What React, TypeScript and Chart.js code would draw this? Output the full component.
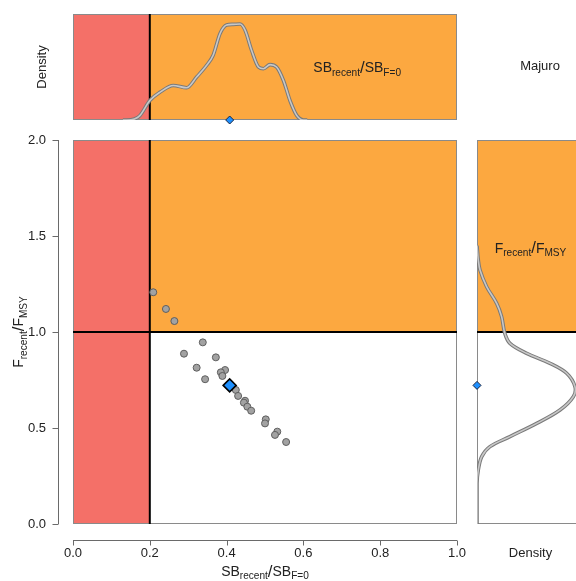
import { useEffect, useRef } from 'react';
import { Chart, registerables } from 'chart.js';

Chart.register(...registerables);

const FONT = '"Liberation Sans", Arial, Helvetica, sans-serif';
const RED = '#F47068';
const ORANGE = '#FCA840';
const BOX = '#8a8a8a';
const AXIS = '#6a6a6a';
const TEXT = '#222222';

// reference points
const SB_LIMIT = 0.2;
const F_LIMIT = 1.0;
const SB_MEDIAN = 0.408;
const F_MEDIAN = 0.722;

// axis ticks
const X_TICKS = [0, 0.2, 0.4, 0.6, 0.8, 1.0];
const Y_TICKS = [0, 0.5, 1.0, 1.5, 2.0];

// scatter of model runs
const sbRecent = [0.209, 0.242, 0.264, 0.338, 0.289, 0.372, 0.322, 0.396, 0.385, 0.389, 0.344, 0.424, 0.43, 0.448, 0.445, 0.454, 0.464, 0.502, 0.5, 0.532, 0.526, 0.555];
const fRecent = [1.207, 1.12, 1.057, 0.946, 0.887, 0.868, 0.814, 0.802, 0.79, 0.771, 0.754, 0.698, 0.667, 0.642, 0.632, 0.611, 0.59, 0.545, 0.524, 0.481, 0.464, 0.427];

// top density (SB_recent / SB_F=0)
const topDensSB = [0.13, 0.14, 0.16, 0.174, 0.2, 0.227, 0.261, 0.296, 0.322, 0.348, 0.365, 0.383, 0.4, 0.417, 0.435, 0.448, 0.465, 0.483, 0.496, 0.513, 0.53, 0.548, 0.565, 0.583, 0.6, 0.61];
const topDensH = [0, 0, 0.01, 0.041, 0.184, 0.263, 0.326, 0.304, 0.405, 0.516, 0.611, 0.816, 0.896, 0.902, 0.905, 0.848, 0.658, 0.5, 0.484, 0.522, 0.5, 0.373, 0.184, 0.041, 0, 0];

// right density (F_recent / F_MSY)
const rightDensF = [1.45, 1.375, 1.323, 1.236, 1.149, 1.08, 0.993, 0.941, 0.889, 0.837, 0.785, 0.715, 0.663, 0.594, 0.524, 0.455, 0.403, 0.351, 0.281, 0.212, 0.0];
const rightDensD = [0, 0.012, 0.028, 0.09, 0.184, 0.23, 0.26, 0.308, 0.464, 0.682, 0.838, 0.916, 0.9, 0.776, 0.558, 0.308, 0.121, 0.044, 0.012, 0, 0];

type Part = { t: string; sub?: boolean; big?: boolean };
const SB_LABEL: Part[] = [{ t: 'SB' }, { t: 'recent', sub: true }, { t: '/', big: true }, { t: 'SB' }, { t: 'F=0', sub: true }];
const F_LABEL: Part[] = [{ t: 'F' }, { t: 'recent', sub: true }, { t: '/', big: true }, { t: 'F' }, { t: 'MSY', sub: true }];

function richText(ctx: CanvasRenderingContext2D, parts: Part[], cx: number, cy: number, size: number, rot = 0, subDrop = 0.26) {
  ctx.save();
  ctx.translate(cx, cy);
  ctx.rotate(rot);
  ctx.fillStyle = TEXT;
  ctx.textBaseline = 'alphabetic';
  ctx.textAlign = 'left';
  const fontFor = (p: Part) => `${p.sub ? size * 0.72 : p.big ? size * 1.2 : size}px ${FONT}`;
  let total = 0;
  const ws = parts.map((p) => {
    ctx.font = fontFor(p);
    const w = ctx.measureText(p.t).width;
    total += w;
    return w;
  });
  let x = -total / 2;
  const base = size * 0.36;
  parts.forEach((p, i) => {
    ctx.font = fontFor(p);
    ctx.fillText(p.t, x, p.sub ? base + size * subDrop : p.big ? base + size * 0.06 : base);
    x += ws[i];
  });
  ctx.restore();
}

const tickFont = { family: FONT, size: 13 };

const mainPlugin = {
  id: 'mainDeco',
  beforeDatasetsDraw(chart: any) {
    const { ctx, chartArea: a, scales } = chart;
    const x = scales.x, y = scales.y;
    const x0 = x.getPixelForValue(0), xL = x.getPixelForValue(SB_LIMIT), x1 = x.getPixelForValue(1);
    const y0 = y.getPixelForValue(0), yL = y.getPixelForValue(F_LIMIT), y2 = y.getPixelForValue(2);
    ctx.save();
    ctx.fillStyle = RED;
    ctx.fillRect(x0, y2, xL - x0, y0 - y2);
    ctx.fillStyle = ORANGE;
    ctx.fillRect(xL, y2, x1 - xL, yL - y2);
    ctx.strokeStyle = BOX;
    ctx.lineWidth = 1;
    ctx.strokeRect(a.left + 0.5, a.top + 0.5, a.width - 1, a.height - 1);
    ctx.strokeStyle = '#000';
    ctx.lineWidth = 2;
    ctx.beginPath();
    ctx.moveTo(xL, y2);
    ctx.lineTo(xL, y0);
    ctx.moveTo(x0, yL);
    ctx.lineTo(x1, yL);
    ctx.stroke();
    ctx.restore();
  },
  afterDraw(chart: any) {
    const { ctx, chartArea: a, scales } = chart;
    const x = scales.x, y = scales.y;
    ctx.save();
    ctx.strokeStyle = AXIS;
    ctx.lineWidth = 1;
    ctx.beginPath();
    const ay = a.bottom + 16.5;
    ctx.moveTo(x.getPixelForValue(X_TICKS[0]), ay);
    ctx.lineTo(x.getPixelForValue(X_TICKS[X_TICKS.length - 1]), ay);
    X_TICKS.forEach((v) => {
      const px = Math.round(x.getPixelForValue(v)) + 0.5;
      ctx.moveTo(px, ay);
      ctx.lineTo(px, ay + 5);
    });
    const ax = a.left - 14.5;
    ctx.moveTo(ax, y.getPixelForValue(Y_TICKS[0]));
    ctx.lineTo(ax, y.getPixelForValue(Y_TICKS[Y_TICKS.length - 1]));
    Y_TICKS.forEach((v) => {
      const py = Math.round(y.getPixelForValue(v)) + 0.5;
      ctx.moveTo(ax, py);
      ctx.lineTo(ax - 6, py);
    });
    ctx.stroke();
    ctx.restore();
    richText(ctx, SB_LABEL, (a.left + a.right) / 2, a.bottom + 47, 14, 0, 0.2);
    richText(ctx, F_LABEL, 18, (a.top + a.bottom) / 2, 14, -Math.PI / 2);
  },
};

const topPlugin = {
  id: 'topDeco',
  beforeDatasetsDraw(chart: any) {
    const { ctx, chartArea: a, scales } = chart;
    const x = scales.x;
    const x0 = x.getPixelForValue(0), xL = x.getPixelForValue(SB_LIMIT), x1 = x.getPixelForValue(1);
    ctx.save();
    ctx.fillStyle = RED;
    ctx.fillRect(x0, a.top, xL - x0, a.height);
    ctx.fillStyle = ORANGE;
    ctx.fillRect(xL, a.top, x1 - xL, a.height);
    ctx.strokeStyle = BOX;
    ctx.lineWidth = 1;
    ctx.strokeRect(a.left + 0.5, a.top + 0.5, a.width - 1, a.height - 1);
    ctx.strokeStyle = '#000';
    ctx.lineWidth = 2;
    ctx.beginPath();
    ctx.moveTo(xL, a.top);
    ctx.lineTo(xL, a.bottom);
    ctx.stroke();
    ctx.restore();
    richText(ctx, SB_LABEL, x.getPixelForValue(0.74), a.top + 53, 14);
  },
  afterDraw(chart: any) {
    const { ctx } = chart;
    ctx.save();
    ctx.fillStyle = TEXT;
    ctx.font = `13px ${FONT}`;
    ctx.textAlign = 'center';
    ctx.textBaseline = 'middle';
    ctx.fillText('Majuro', 540, 66);
    ctx.restore();
  },
};

const rightPlugin = {
  id: 'rightDeco',
  beforeDatasetsDraw(chart: any) {
    const { ctx, chartArea: a, scales } = chart;
    const y = scales.y;
    const yL = y.getPixelForValue(F_LIMIT), y2 = y.getPixelForValue(2);
    ctx.save();
    ctx.fillStyle = ORANGE;
    ctx.fillRect(a.left, y2, a.width, yL - y2);
    ctx.strokeStyle = BOX;
    ctx.lineWidth = 1;
    ctx.strokeRect(a.left + 0.5, a.top + 0.5, a.width - 1, a.height - 1);
    ctx.strokeStyle = '#000';
    ctx.lineWidth = 2;
    ctx.beginPath();
    ctx.moveTo(a.left, yL);
    ctx.lineTo(a.right, yL);
    ctx.stroke();
    ctx.restore();
    richText(ctx, F_LABEL, 530.5, y.getPixelForValue(1.44), 14);
  },
};

const curveOuter = { showLine: true, pointRadius: 0, borderColor: '#7a7a7a', borderWidth: 3.6, fill: false };
const curveInner = { showLine: true, pointRadius: 0, borderColor: '#c8c8c8', borderWidth: 1.6, fill: false };

export default function App() {
  const mainRef = useRef<HTMLCanvasElement>(null);
  const topRef = useRef<HTMLCanvasElement>(null);
  const rightRef = useRef<HTMLCanvasElement>(null);

  useEffect(() => {
    const mainChart = new Chart(mainRef.current as HTMLCanvasElement, {
      type: 'scatter',
      data: {
        datasets: [
          {
            data: [{ x: SB_MEDIAN, y: F_MEDIAN }],
            pointStyle: 'rectRot',
            pointRadius: 6.5,
            backgroundColor: '#1E90FF',
            borderColor: '#000000',
            borderWidth: 1.6,
          },
          {
            data: sbRecent.map((v, i) => ({ x: v, y: fRecent[i] })),
            pointRadius: 3.5,
            backgroundColor: '#a2a2a2',
            borderColor: '#5e5e5e',
            borderWidth: 1,
          },
        ],
      },
      options: {
        responsive: false,
        animation: false,
        layout: { padding: { left: 0, right: 119, top: 140, bottom: 0 } },
        plugins: { legend: { display: false }, tooltip: { enabled: false } },
        scales: {
          x: {
            type: 'linear',
            min: 0,
            max: 1,
            afterBuildTicks: (s: any) => { s.ticks = X_TICKS.map((v) => ({ value: v })); },
            afterFit: (s: any) => { s.height = 57; },
            grid: { display: false, drawTicks: false },
            border: { display: false },
            ticks: { font: tickFont, color: TEXT, padding: 22, maxRotation: 0, autoSkip: false, callback: (v: any) => Number(v).toFixed(1) },
          },
          y: {
            type: 'linear',
            min: 0,
            max: 2,
            afterBuildTicks: (s: any) => { s.ticks = Y_TICKS.map((v) => ({ value: v })); },
            afterFit: (s: any) => { s.width = 73; },
            grid: { display: false, drawTicks: false },
            border: { display: false },
            ticks: { font: tickFont, color: TEXT, padding: 27, autoSkip: false, callback: (v: any) => Number(v).toFixed(1) },
          },
        },
      } as any,
      plugins: [mainPlugin],
    });

    const topData = topDensSB.map((v, i) => ({ x: v, y: topDensH[i] }));
    const topChart = new Chart(topRef.current as HTMLCanvasElement, {
      type: 'scatter',
      data: {
        datasets: [
          {
            data: [{ x: SB_MEDIAN, y: 0 }],
            pointStyle: 'rectRot',
            pointRadius: 4,
            backgroundColor: '#1E90FF',
            borderColor: '#1a2540',
            borderWidth: 1,
            clip: false,
          },
          { ...curveInner, data: topData, cubicInterpolationMode: 'monotone' },
          { ...curveOuter, data: topData, cubicInterpolationMode: 'monotone' },
        ],
      } as any,
      options: {
        responsive: false,
        animation: false,
        layout: { padding: { left: 0, right: 119, top: 14, bottom: 461 } },
        plugins: { legend: { display: false }, tooltip: { enabled: false } },
        scales: {
          x: { type: 'linear', min: 0, max: 1, display: false },
          y: {
            type: 'linear',
            min: 0,
            max: 1,
            afterFit: (s: any) => { s.width = 73; },
            grid: { display: false, drawTicks: false },
            border: { display: false },
            ticks: { display: false },
            title: { display: true, text: 'Density', color: TEXT, font: { family: FONT, size: 13 }, padding: { top: 34.2, bottom: 0 } },
          },
        },
      } as any,
      plugins: [topPlugin],
    });

    const rightData = rightDensF.map((v, i) => ({ x: rightDensD[i], y: v }));
    const rightChart = new Chart(rightRef.current as HTMLCanvasElement, {
      type: 'scatter',
      data: {
        datasets: [
          {
            data: [{ x: 0, y: F_MEDIAN }],
            pointStyle: 'rectRot',
            pointRadius: 4,
            backgroundColor: '#1E90FF',
            borderColor: '#1a2540',
            borderWidth: 1,
            clip: false,
          },
          { ...curveInner, data: rightData, tension: 0.35 },
          { ...curveOuter, data: rightData, tension: 0.35 },
        ],
      } as any,
      options: {
        responsive: false,
        animation: false,
        layout: { padding: { left: 477, right: 16, top: 140, bottom: 0 } },
        plugins: { legend: { display: false }, tooltip: { enabled: false } },
        scales: {
          x: {
            type: 'linear',
            min: 0,
            max: 1,
            afterFit: (s: any) => { s.height = 57; },
            grid: { display: false, drawTicks: false },
            border: { display: false },
            ticks: { display: false },
            title: { display: true, text: 'Density', color: TEXT, font: { family: FONT, size: 13 }, padding: { top: 0, bottom: 20.2 } },
          },
          y: { type: 'linear', min: 0, max: 2, display: false },
        },
      } as any,
      plugins: [rightPlugin],
    });

    return () => {
      mainChart.destroy();
      topChart.destroy();
      rightChart.destroy();
    };
  }, []);

  const cs: any = { position: 'absolute', left: 0, top: 0 };
  return (
    <div style={{ position: 'absolute', left: 0, top: 0, width: 576, height: 581, overflow: 'hidden', background: '#ffffff' }}>
      <canvas ref={mainRef} width={576} height={581} style={cs} />
      <canvas ref={topRef} width={576} height={581} style={cs} />
      <canvas ref={rightRef} width={600} height={581} style={cs} />
    </div>
  );
}
